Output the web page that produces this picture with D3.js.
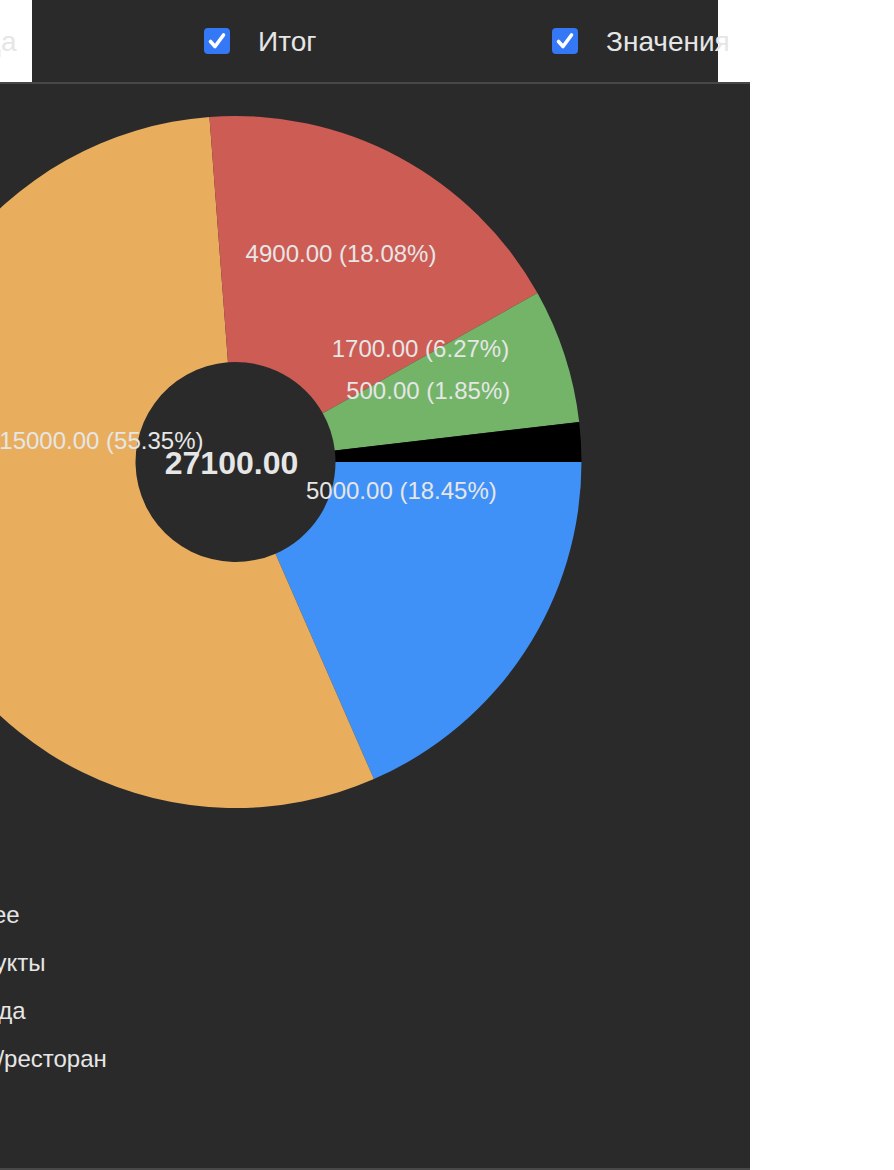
<!DOCTYPE html>
<html>
<head>
<meta charset="utf-8">
<script src="https://cdn.jsdelivr.net/npm/d3@7"></script>
<style>
  html, body { margin: 0; padding: 0; background: #ffffff; overflow: hidden; }
  svg { display: block; font-family: "Liberation Sans", Arial, Helvetica, sans-serif; }
</style>
</head>
<body>
<svg id="chart" width="894" height="1170"></svg>
<script>
// ---- data ----
const categories = ["Дом", "Прочее", "Продукты", "Одежда", "Кафе/ресторан"];
const values = [5000, 15000, 4900, 1700, 500];
const colors = ["#3f91f7", "#e8ae5e", "#cd5c55", "#73b469", "#000000"];
const toggles = ["Легенда", "Итог", "Значения"];

// ---- layout ----
const W = 894, H = 1170;
const cx = 235.5, cy = 462;
const outerR = 346, innerR = 100;
const svg = d3.select("#chart");
const textColor = "#e6e6e6";
const bg = "#2a2a2a";

// main panel
svg.append("rect").attr("x", 0).attr("y", 82).attr("width", 750).attr("height", 1088).attr("fill", "#484848");
svg.append("rect").attr("x", 0).attr("y", 84).attr("width", 750).attr("height", 1084).attr("fill", bg);
// top bar
svg.append("rect").attr("x", 32).attr("y", 0).attr("width", 686).attr("height", 82).attr("fill", bg);

// toggles (checkbox + label)
const tg = svg.append("g").selectAll("g").data(toggles).join("g")
  .attr("transform", (d, i) => `translate(${-144 + i * 348},28)`);
tg.append("rect").attr("width", 26).attr("height", 26).attr("rx", 4).attr("fill", "#3478f6");
tg.append("path").attr("d", "M6.5,13.5 L11,18.5 L19.5,7").attr("fill", "none")
  .attr("stroke", "#ffffff").attr("stroke-width", 3.6).attr("stroke-linecap", "round").attr("stroke-linejoin", "round");
tg.append("text").attr("x", 54).attr("y", 23).attr("font-size", 28).attr("fill", textColor).text(d => d);

// pie
const total = d3.sum(values);
const pie = d3.pie().sort(null).value(d => d).startAngle(Math.PI / 2).endAngle(Math.PI / 2 + 2 * Math.PI);
const arcs = pie(values);
const arc = d3.arc().innerRadius(innerR).outerRadius(outerR);
const g = svg.append("g").attr("transform", `translate(${cx},${cy})`);
g.selectAll("path").data(arcs).join("path")
  .attr("d", arc)
  .attr("fill", (d, i) => colors[i]);

// value labels
const labelArc = d3.arc().innerRadius(166).outerRadius(166);
const lg = svg.append("g").attr("transform", `translate(${cx + 27},${cy - 62})`);
lg.selectAll("text").data(arcs).join("text")
  .attr("transform", d => `translate(${labelArc.centroid(d)})`)
  .attr("text-anchor", "middle")
  .attr("dominant-baseline", "central")
  .attr("font-size", 24)
  .attr("fill", textColor)
  .text(d => `${d.value.toFixed(2)} (${(d.value / total * 100).toFixed(2)}%)`);

// total in centre
g.append("text")
  .attr("x", -4).attr("y", 1)
  .attr("text-anchor", "middle")
  .attr("dominant-baseline", "central")
  .attr("font-size", 32)
  .attr("font-weight", "bold")
  .attr("fill", textColor)
  .text(total.toFixed(2));

// legend
const leg = svg.append("g").attr("transform", "translate(-63,875)");
const li = leg.selectAll("g").data(categories).join("g")
  .attr("transform", (d, i) => `translate(0,${i * 48})`);
li.append("rect").attr("x", -40).attr("y", -18).attr("width", 24).attr("height", 18)
  .attr("fill", (d, i) => colors[i]);
li.append("text").attr("font-size", 24).attr("fill", textColor).text(d => d);
</script>
</body>
</html>
